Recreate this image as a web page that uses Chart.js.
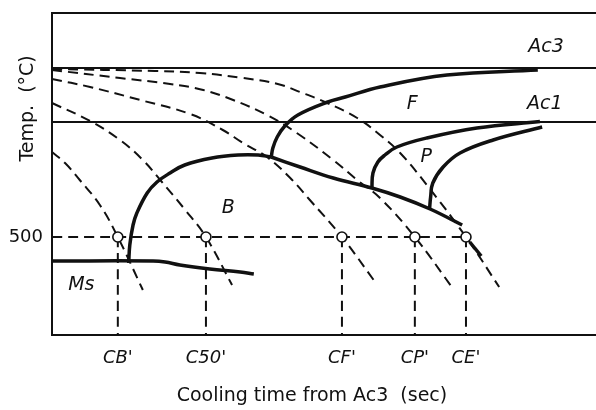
<!DOCTYPE html>
<html>
<head>
<meta charset="utf-8">
<script src="https://cdn.jsdelivr.net/npm/chart.js@4"></script>
<style>
  html, body { margin: 0; padding: 0; background: #fff; }
  canvas { display: block; }
</style>
</head>
<body>
<canvas id="chart" width="596" height="410"></canvas>
<script>
// schematic CCT diagram: x = cooling time (arbitrary units 0..100), y = temperature (°C)
const tickPos = [12.1, 28.3, 53.3, 66.7, 76.1];
const tickLabels = ["CB'", "C50'", "CF'", "CP'", "CE'"];
const tempTicks = [500];
const tempTop = 948;
const Ac3 = 838;
const Ac1 = 730;
const T500 = 500;

// cooling curves (dashed), each one crosses 500 °C at its critical time
const coolCB = [[0,670],[2.4,648],[5.1,614],[8.8,564],[12.1,500],[16.7,394]];
const coolC50 = [[0,768],[7,732],[12.5,694],[16.7,654],[19.9,614],[24.5,554],[28.3,500],[33.1,404]];
const coolCF = [[0,816],[7,800],[16.2,774],[25.4,746],[31.4,714],[35.1,688],[39.5,660],[43.8,618],[47.4,574],[53.3,500],[59.4,410]];
const coolCP = [[0,834],[12.5,818],[21.7,806],[27.8,794],[33.3,774],[39.5,744],[45,708],[51.7,654],[56.1,614],[60.3,578],[66.7,500],[73.9,394]];
const coolCE = [[0,836],[18.9,832],[27.2,828],[35.1,818],[41.5,806],[45.6,790],[50.6,768],[56.1,738],[60.3,704],[64,668],[68.9,604],[76.1,500],[82.2,400]];

// transformation lines (thick)
const bStart = [[14.1,448],[14.3,484],[14.9,524],[15.6,548],[17.5,588],[19.3,610],[21.7,628],[24.4,644],[29.4,658],[34.2,664],[37.9,664],[40.3,660]];
const fStart = [[40.3,660],[40.6,678],[41.4,700],[42.8,722],[45.2,744],[50.7,770],[53.9,780],[60.3,800],[72.6,824],[89.3,834]];
const bfLine = [[40.3,660],[45.6,640],[51.7,618],[58.8,598],[64,580],[69.5,556],[75.4,524]];
const pStart = [[58.8,598],[59,628],[59.9,650],[61.2,664],[63.4,680],[68.9,698],[78.1,718],[89.7,731]];
const pEnd = [[69.4,556],[69.6,580],[70,608],[71.9,640],[75,668],[81.1,694],[90.1,720]];
const msLine = [[0,452],[18.6,452],[20.8,450],[23.5,444],[29,436],[34.6,430],[37.1,426]];
const ceTail = [[76.8,490],[78.9,462]];

const ink = '#111';
const pts = a => a.map(p => ({x: p[0], y: p[1]}));

function line(data, width, dash) {
  return {
    data: pts(data),
    showLine: true,
    borderColor: ink,
    borderWidth: width,
    borderDash: dash || [],
    pointRadius: 0,
    tension: 0.4,
    fill: false,
    order: 2,
    clip: 4
  };
}

const datasets = [];
// 500 °C circles on top
datasets.push({
  data: tickPos.map(x => ({x: x, y: T500})),
  showLine: false,
  pointRadius: 5,
  pointBackgroundColor: '#fff',
  pointBorderColor: ink,
  pointBorderWidth: 1.6,
  order: 0
});
// level lines
datasets.push(line([[0, tempTop], [100, tempTop]], 2));
datasets.push(line([[0, Ac3], [100, Ac3]], 2));
datasets.push(line([[0, Ac1], [100, Ac1]], 2));
datasets.push(line([[0, T500], [tickPos[tickPos.length - 1], T500]], 2, [10, 6]));
tickPos.forEach(x => datasets.push(line([[x, T500], [x, 304]], 2, [10, 6])));
[coolCB, coolC50, coolCF, coolCP, coolCE].forEach(c => datasets.push(line(c, 2, [10, 6])));
[bStart, fStart, bfLine, pStart, pEnd, msLine, ceTail].forEach(c => datasets.push(line(c, 3.5)));

const notes = [
  {text: 'Ac3', x: 90.8, y: 880},
  {text: 'Ac1', x: 90.6, y: 766},
  {text: 'F', x: 66.2, y: 766},
  {text: 'P', x: 68.8, y: 660},
  {text: 'B', x: 32.4, y: 558},
  {text: 'Ms', x: 5.4, y: 404}
];

const notePlugin = {
  id: 'notes',
  afterDatasetsDraw(chart) {
    const ctx = chart.ctx;
    const xs = chart.scales.x, ys = chart.scales.y;
    ctx.save();
    ctx.fillStyle = ink;
    ctx.font = 'italic 19px "DejaVu Sans"';
    ctx.textAlign = 'center';
    ctx.textBaseline = 'middle';
    notes.forEach(n => ctx.fillText(n.text, xs.getPixelForValue(n.x), ys.getPixelForValue(n.y)));
    ctx.restore();
  }
};

new Chart(document.getElementById('chart'), {
  type: 'scatter',
  data: { datasets: datasets },
  plugins: [notePlugin],
  options: {
    responsive: false,
    animation: false,
    layout: { autoPadding: false, padding: { top: 13, right: 0, left: 0, bottom: 0 } },
    plugins: { legend: { display: false }, tooltip: { enabled: false } },
    scales: {
      x: {
        type: 'linear',
        min: 0,
        max: 100,
        grid: { display: false, drawTicks: false },
        border: { display: true, color: ink, width: 2 },
        afterFit: s => { s.height = 75; s.paddingLeft = 0; s.paddingRight = 0; },
        afterBuildTicks: s => { s.ticks = tickPos.map(v => ({value: v})); },
        ticks: {
          padding: 13,
          color: ink,
          font: { family: 'DejaVu Sans', size: 18, style: 'italic' },
          callback: (v, i) => tickLabels[i]
        },
        title: {
          display: true,
          text: 'Cooling time from Ac3  (sec)    ',
          color: ink,
          font: { family: 'DejaVu Sans', size: 19 },
          padding: { top: 4, bottom: 3 }
        }
      },
      y: {
        type: 'linear',
        min: 304,
        max: tempTop,
        grid: { display: false, drawTicks: false },
        border: { display: true, color: ink, width: 2 },
        afterFit: s => { s.width = 52; s.paddingTop = 0; s.paddingBottom = 0; },
        afterBuildTicks: s => { s.ticks = tempTicks.map(v => ({value: v})); },
        ticks: {
          padding: 9,
          color: ink,
          font: { family: 'DejaVu Sans', size: 18 }
        },
        title: {
          display: true,
          align: 'end',
          text: 'Temp.  (°C)       ',
          color: ink,
          font: { family: 'DejaVu Sans', size: 19 },
          padding: { top: 17, bottom: 0 }
        }
      }
    }
  }
});
</script>
</body>
</html>
